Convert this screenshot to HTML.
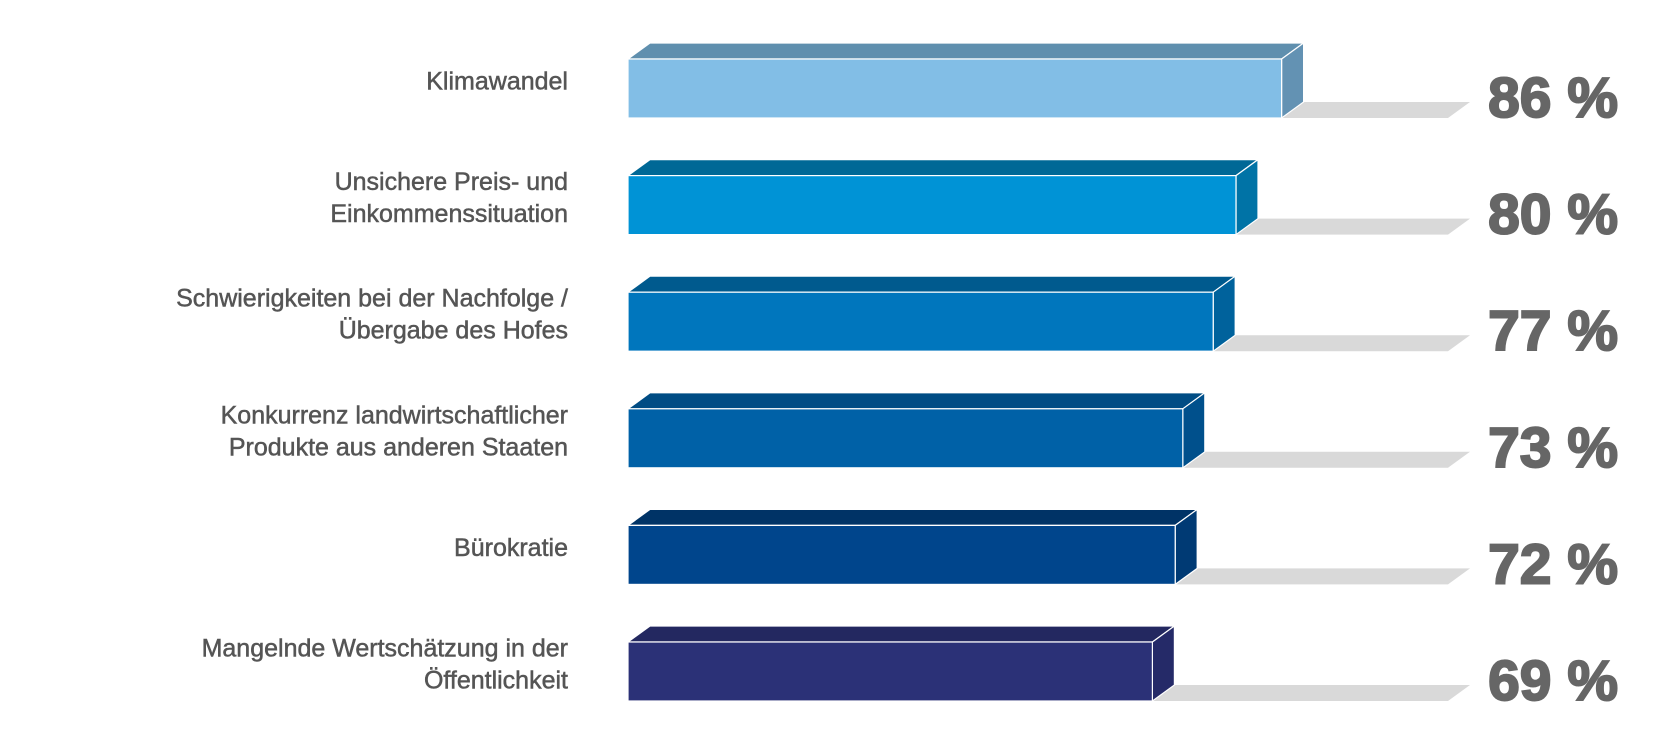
<!DOCTYPE html>
<html><head><meta charset="utf-8"><style>
html,body{margin:0;padding:0;background:#fff;width:1680px;height:741px;overflow:hidden}
svg{display:block}
text{font-family:"Liberation Sans",sans-serif}
</style></head><body>
<svg id="chart" width="1680" height="741" viewBox="0 0 1680 741" xmlns="http://www.w3.org/2000/svg"></svg>
<script>
const categories = [["Klimawandel"],["Unsichere Preis- und","Einkommenssituation"],["Schwierigkeiten bei der Nachfolge /","Übergabe des Hofes"],["Konkurrenz landwirtschaftlicher","Produkte aus anderen Staaten"],["Bürokratie"],["Mangelnde Wertschätzung in der","Öffentlichkeit"]];
const values = [86,80,77,73,72,69];
const valueLabels = ["86 %","80 %","77 %","73 %","72 %","69 %"];
const frontColors = ["#82bee6","#0093d6","#0076bd","#0061a7","#00458c","#2b3177"];
const topColors = ["#5f8fae","#006896","#005a8e","#004c84","#003366","#232860"];
const sideColors = ["#6392b3","#0073a6","#00629c","#00508c","#003a74","#252a68"];

const svg = document.getElementById('chart');
const NS = 'http://www.w3.org/2000/svg';
const x0 = 628, pxPer = 7.6, rowTop = 59, rowStep = 116.6, barH = 59, dx = 22, dy = 16, shadowEnd = 1448;
const xScale = v => x0 + v * pxPer;
const yScale = i => rowTop + i * rowStep;
function mk(tag, attrs){const e=document.createElementNS(NS,tag);for(const k in attrs)e.setAttribute(k,attrs[k]);svg.appendChild(e);return e;}

values.forEach((v,i)=>{
  const y = yScale(i), x1 = xScale(v), yb = y + barH;
  const sh = mk('polygon',{points:`${x1},${yb} ${x1+dx},${yb-dy} ${shadowEnd+dx},${yb-dy} ${shadowEnd},${yb}`,fill:'#d9d9d9'});
  
  
  const top = mk('polygon',{points:`${x0},${y} ${x0+dx},${y-dy} ${x1+dx},${y-dy} ${x1},${y}`,fill:topColors[i],stroke:'#fff','stroke-width':1.2});
  
  
  const side = mk('polygon',{points:`${x1},${y} ${x1+dx},${y-dy} ${x1+dx},${yb-dy} ${x1},${yb}`,fill:sideColors[i],stroke:'#fff','stroke-width':1.2});
  
  
  const fr = mk('rect',{x:x0,y:y,width:x1-x0,height:barH,fill:frontColors[i],stroke:'#fff','stroke-width':1.2});
  
  
  const vt = mk('text',{x:1618,y:y+barH-1,'text-anchor':'end','font-size':57,'font-weight':'bold',fill:'#666',stroke:'#666','stroke-width':2});
  vt.textContent = valueLabels[i];
  
  
  const lines = categories[i];
  const cy = y + barH/2 - 8;
  lines.forEach((ln,j)=>{
    const t = mk('text',{x:568,y:cy + (j-(lines.length-1)/2)*32 + 9,'text-anchor':'end','font-size':25,fill:'#555',stroke:'#555','stroke-width':0.5});
    t.textContent = ln;
    
    
  });
});
</script>
</body></html>
